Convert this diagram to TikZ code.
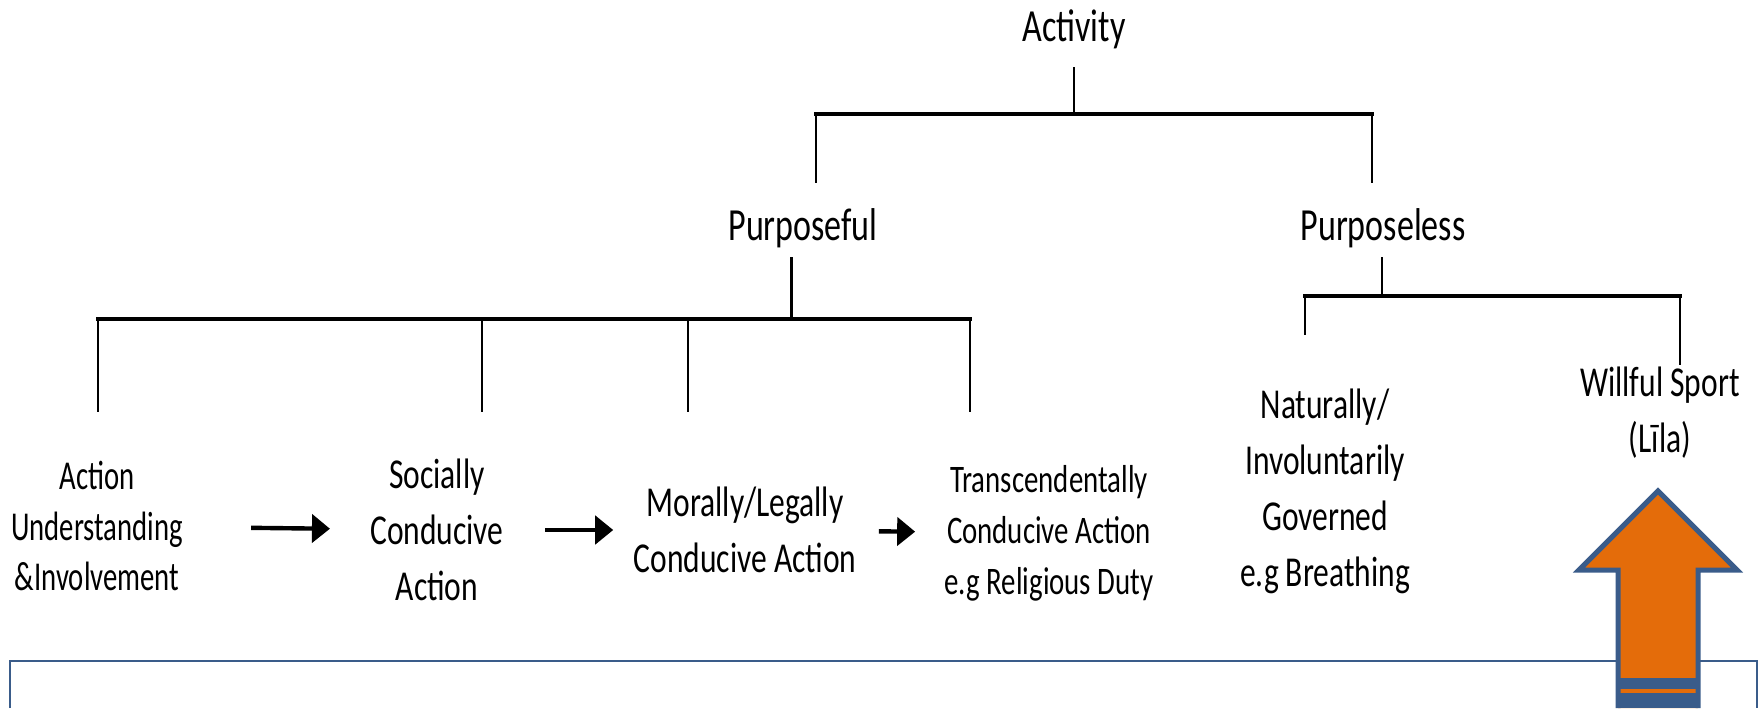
\documentclass[tikz,border=0pt]{standalone}
\usepackage{fontspec}
\usepackage{tikz}
\usetikzlibrary{arrows.meta}
\setmainfont[FakeStretch=0.74]{Carlito}
\newfontfamily\narrowfont[FakeStretch=0.70]{Carlito}
\definecolor{boxblue}{RGB}{58,92,138}
\definecolor{arroworange}{RGB}{228,108,10}

\begin{document}
\begin{tikzpicture}[x=0.5pt,y=-0.5pt,
    headtext/.style={align=center,inner sep=0pt,font=\fontsize{23}{27}\selectfont},
    treetext/.style={align=center,inner sep=0pt,font=\fontsize{21.3}{28}\selectfont},
    narrowtext/.style={align=center,inner sep=0pt,font=\narrowfont\fontsize{20.5}{25.3}\selectfont},
    smalltext/.style={align=center,inner sep=0pt,font=\fontsize{19.5}{25.5}\selectfont},
    stem/.style={line width=1.2pt},
    bar/.style={line width=2.2pt,line cap=rect},
    flow/.style={line width=2.2pt,-{Triangle[length=9pt,width=14pt]}}]
    \useasboundingbox (0,0) rectangle (1758,708);

    \node (activity) at (1074,29) [headtext] {Activity};
    \node (purposeful) at (803,228) [headtext] {Purposeful};
    \node (purposeless) at (1383,228) [headtext] {Purposeless};

    \node (action) at (97,526) [narrowtext] {Action\\Understanding\\\&Involvement};
    \node (socially) at (437,530) [treetext] {Socially\\Conducive\\Action};
    \node (morally) at (745,530) [treetext] {Morally/Legally\\Conducive Action};
    \node (transcend) at (1049,533) [smalltext] {Transcendentally\\Conducive Action\\e.g Religious Duty};
    \node (naturally) at (1325,491) [treetext] {Naturally/\\Involuntarily\\Governed\\e.g Breathing};
    \node (willful) at (1660,413) [treetext] {Willful Sport\\(Līla)};

    \coordinate (activitybar) at (1074,114);
    \coordinate (barleft) at (816,114);
    \coordinate (barright) at (1372,114);
    \coordinate (leftend) at (816,183);
    \coordinate (rightend) at (1372,183);

    \coordinate (purposefultop) at (791,257);
    \coordinate (purposefulbar) at (791,319);
    \coordinate (drop1) at (98,319);
    \coordinate (drop2) at (482,319);
    \coordinate (drop3) at (688,319);
    \coordinate (drop4) at (970,319);
    \coordinate (end1) at (98,412);
    \coordinate (end2) at (482,412);
    \coordinate (end3) at (688,412);
    \coordinate (end4) at (970,412);

    \coordinate (purposelesstop) at (1382,257);
    \coordinate (purposelessbar) at (1382,296);
    \coordinate (drop5) at (1305,296);
    \coordinate (drop6) at (1680,296);
    \coordinate (end5) at (1305,335);
    \coordinate (end6) at (1680,365);

    \draw[stem,shorten <=9pt] (activity) -- (activitybar);
    \draw[bar] (barleft) -- (barright);
    \draw[stem] (barleft) -- (leftend);
    \draw[stem] (barright) -- (rightend);

    \draw[line width=1.5pt] (purposefultop) -- (purposefulbar);
    \draw[bar] (drop1) -- (drop4);
    \foreach \i in {1,...,4}
        \draw[stem] (drop\i) -- (end\i);

    \draw[stem] (purposelesstop) -- (purposelessbar);
    \draw[bar] (drop5) -- (drop6);
    \draw[stem] (drop5) -- (end5);
    \draw[stem] (drop6) -- (end6);

    \draw[flow,shorten <=34pt,shorten >=20pt] (action) -- (socially);
    \draw[flow,shorten <=20.5pt,shorten >=10pt] (socially) -- (morally);
    \draw[flow,shorten <=11pt,shorten >=14.5pt] (morally) -- (transcend);

    \draw[boxblue,line width=1pt] (10,708) -- (10,661) -- (1757,661) -- (1757,708);
    \fill[arroworange] (1658,491) -- (1737,570) -- (1698,570) -- (1698,708) -- (1618,708) -- (1618,570) -- (1579,570) -- cycle;
    \fill[boxblue] (1618,678) rectangle (1698,689);
    \fill[boxblue] (1618,693) rectangle (1698,708);
    \draw[boxblue,line width=2.5pt,miter limit=10] (1618,708) -- (1618,570) -- (1579,570) -- (1658,491) -- (1737,570) -- (1698,570) -- (1698,708);
\end{tikzpicture}
\end{document}
